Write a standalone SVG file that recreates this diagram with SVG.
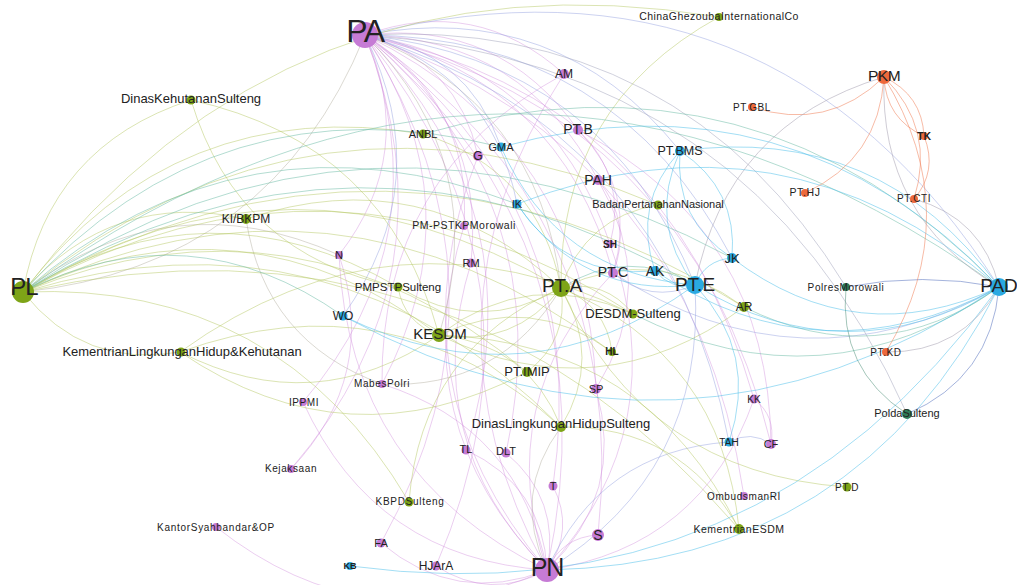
<svg xmlns="http://www.w3.org/2000/svg" width="1017" height="585" viewBox="0 0 1017 585">
<style>
.e path{fill:none;stroke-width:1}
.pp{stroke:#d08bdb;stroke-opacity:.42}
.pg{stroke:#a9a593;stroke-opacity:.42}
.pb{stroke:#9aa6e2;stroke-opacity:.5}
.pd{stroke:#9d9fb8;stroke-opacity:.48}
.gg{stroke:#b3c760;stroke-opacity:.48}
.gb{stroke:#6dbba6;stroke-opacity:.52}
.bb{stroke:#4fc0ea;stroke-opacity:.52}
.db{stroke:#5a74c0;stroke-opacity:.55}
.dd{stroke:#4f8f78;stroke-opacity:.52}
.oo{stroke:#ef7c55;stroke-opacity:.52}
.ob{stroke:#a7a3b2;stroke-opacity:.55}
.np{fill:#c67bd5}
.ng{fill:#7ea417}
.nb{fill:#2aa9e1}
.no{fill:#ee693c}
.nd{fill:#2e7c58}
text{font-family:"Liberation Sans",Arial,Helvetica,sans-serif;fill:#222;text-anchor:middle}
.sp{letter-spacing:.6px}
.b{font-weight:bold}
</style>

<!-- connectors: curved edges, coloured by the pair of node colours -->
<g id="edges" class="e">
<g class="pp">
<path d="M365 35 Q476 -5 564 74"/>
<path d="M365 35 Q458 62 478 156"/>
<path d="M365 35 Q500 19 578 130"/>
<path d="M365 35 Q525 38 598 180"/>
<path d="M365 35 Q550 66 610 244"/>
<path d="M365 35 Q560 80 613 273"/>
<path d="M365 35 Q486 117 471 263"/>
<path d="M365 35 Q472 101 464 226"/>
<path d="M365 35 Q418 153 339 255"/>
<path d="M365 35 Q478 204 382 384"/>
<path d="M365 35 Q587 143 596 389"/>
<path d="M365 35 Q540 212 466 450"/>
<path d="M365 35 Q561 202 506 453"/>
<path d="M365 35 Q594 204 553 486"/>
<path d="M365 35 Q632 215 598 535"/>
<path d="M365 35 Q617 248 547 570"/>
<path d="M365 35 Q669 100 754 399"/>
<path d="M365 35 Q691 118 771 444"/>
<path d="M365 35 Q693 152 744 496"/>
<path d="M365 35 Q525 284 381 543"/>
<path d="M365 35 Q560 279 436 566"/>
<path d="M365 35 Q444 237 303 402"/>
<path d="M365 35 Q458 274 291 469"/>
<path d="M466 450 Q543 486 547 570"/>
<path d="M506 453 Q561 499 547 570"/>
<path d="M553 486 Q575 530 547 570"/>
<path d="M547 570 Q562 537 598 535"/>
<path d="M547 570 Q456 606 381 543"/>
<path d="M547 570 Q490 601 436 566"/>
<path d="M547 570 Q369 648 216 527"/>
<path d="M596 389 Q626 494 547 570"/>
<path d="M547 570 Q491 402 613 273"/>
<path d="M610 244 Q676 426 547 570"/>
<path d="M547 570 Q375 559 303 402"/>
<path d="M382 384 Q520 428 547 570"/>
<path d="M547 570 Q417 439 471 263"/>
<path d="M547 570 Q349 475 339 255"/>
<path d="M547 570 Q402 423 464 226"/>
<path d="M547 570 Q388 384 478 156"/>
<path d="M547 570 Q407 317 564 74"/>
<path d="M382 384 Q380 174 564 74"/>
<path d="M754 399 Q702 547 547 570"/>
<path d="M754 399 Q776 416 771 444"/>
<path d="M339 255 Q379 376 291 469"/>
<path d="M598 180 Q633 223 613 273"/>
<path d="M578 130 Q638 191 613 273"/>
<path d="M578 130 Q628 177 610 244"/>
<path d="M578 130 Q769 229 771 444"/>
<path d="M598 180 Q660 285 596 389"/>
</g>
<g class="pg">
<path d="M365 35 Q492 163 439 335"/>
<path d="M365 35 Q271 266 23 292"/>
<path d="M365 35 Q539 103 561 288"/>
<path d="M547 570 Q511 494 561 427"/>
<path d="M561 288 Q500 390 382 384"/>
<path d="M23 292 Q170 179 339 255"/>
<path d="M382 384 Q265 342 246 219"/>
</g>
<g class="pb">
<path d="M365 35 Q605 61 695 285"/>
<path d="M365 35 Q773 -67 999 287"/>
<path d="M365 35 Q615 36 732 258"/>
<path d="M365 35 Q557 -2 680 151"/>
<path d="M365 35 Q438 182 343 316"/>
<path d="M365 35 Q467 50 501 147"/>
<path d="M365 35 Q492 74 517 204"/>
<path d="M365 35 Q669 129 729 442"/>
<path d="M695 285 Q706 472 547 570"/>
<path d="M547 570 Q600 451 729 442"/>
<path d="M729 442 Q751 430 771 444"/>
<path d="M999 287 Q802 396 613 273"/>
<path d="M695 285 Q650 304 613 273"/>
</g>
<g class="pd">
<path d="M365 35 Q681 17 846 287"/>
<path d="M365 35 Q750 62 907 414"/>
</g>
<g class="gg">
<path d="M23 292 Q49 146 191 100"/>
<path d="M23 292 Q113 189 246 219"/>
<path d="M180 352 Q84 369 23 292"/>
<path d="M23 292 Q291 129 561 288"/>
<path d="M23 292 Q244 189 439 335"/>
<path d="M23 292 Q209 177 398 287"/>
<path d="M23 292 Q176 93 423 134"/>
<path d="M23 292 Q335 120 633 314"/>
<path d="M23 292 Q299 181 527 372"/>
<path d="M23 292 Q336 145 612 352"/>
<path d="M23 292 Q333 198 561 427"/>
<path d="M23 292 Q314 58 658 205"/>
<path d="M23 292 Q388 83 744 307"/>
<path d="M23 292 Q452 196 739 529"/>
<path d="M23 292 Q279 281 409 502"/>
<path d="M23 292 Q288 -54 719 17"/>
<path d="M191 100 Q386 143 439 335"/>
<path d="M398 287 Q238 256 191 100"/>
<path d="M246 219 Q424 159 561 288"/>
<path d="M561 288 Q514 348 439 335"/>
<path d="M561 288 Q605 279 633 314"/>
<path d="M561 288 Q569 340 527 372"/>
<path d="M561 288 Q603 358 561 427"/>
<path d="M561 288 Q559 105 719 17"/>
<path d="M561 288 Q585 217 658 205"/>
<path d="M561 288 Q606 305 612 352"/>
<path d="M561 288 Q658 243 744 307"/>
<path d="M561 288 Q722 355 739 529"/>
<path d="M847 487 Q644 473 561 288"/>
<path d="M409 502 Q421 349 561 288"/>
<path d="M561 288 Q479 336 398 287"/>
<path d="M423 134 Q538 170 561 288"/>
<path d="M439 335 Q404 323 398 287"/>
<path d="M439 335 Q530 266 633 314"/>
<path d="M439 335 Q528 344 561 427"/>
<path d="M439 335 Q531 292 612 352"/>
<path d="M439 335 Q647 342 739 529"/>
<path d="M744 307 Q600 413 439 335"/>
<path d="M439 335 Q315 421 180 352"/>
<path d="M180 352 Q395 197 633 314"/>
<path d="M180 352 Q393 275 561 427"/>
<path d="M527 372 Q348 466 180 352"/>
<path d="M561 427 Q681 425 739 529"/>
</g>
<g class="gb">
<path d="M23 292 Q357 87 695 285"/>
<path d="M23 292 Q218 76 501 147"/>
<path d="M23 292 Q244 100 517 204"/>
<path d="M23 292 Q190 208 343 316"/>
<path d="M23 292 Q367 62 732 258"/>
<path d="M23 292 Q509 -62 999 287"/>
<path d="M561 288 Q627 246 695 285"/>
<path d="M999 287 Q824 410 633 314"/>
<path d="M999 287 Q878 374 744 307"/>
<path d="M423 134 Q757 38 999 287"/>
</g>
<g class="bb">
<path d="M695 285 Q647 223 680 151"/>
<path d="M680 151 Q738 189 732 258"/>
<path d="M732 258 Q674 220 680 151"/>
<path d="M655 271 Q632 204 680 151"/>
<path d="M695 285 Q705 260 732 258"/>
<path d="M695 285 Q671 290 655 271"/>
<path d="M695 285 Q582 298 517 204"/>
<path d="M655 271 Q566 279 517 204"/>
<path d="M695 285 Q557 274 501 147"/>
<path d="M695 285 Q528 406 343 316"/>
<path d="M695 285 Q759 353 729 442"/>
<path d="M999 287 Q846 377 695 285"/>
<path d="M999 287 Q857 353 732 258"/>
<path d="M999 287 Q822 382 655 271"/>
<path d="M999 287 Q680 498 343 316"/>
<path d="M999 287 Q858 564 547 570"/>
<path d="M999 287 Q758 621 350 566"/>
<path d="M680 151 Q880 123 999 287"/>
<path d="M501 147 Q792 68 999 287"/>
<path d="M517 204 Q783 101 999 287"/>
</g>
<g class="db">
<path d="M846 287 Q922 272 999 287"/>
<path d="M999 287 Q991 378 907 414"/>
</g>
<g class="dd">
<path d="M907 414 Q838 369 846 287"/>
</g>
<g class="oo">
<path d="M884 77 Q827 132 752 107"/>
<path d="M884 77 Q922 95 924 136"/>
<path d="M924 136 Q886 119 884 77"/>
<path d="M884 77 Q936 129 914 199"/>
<path d="M884 77 Q879 159 805 193"/>
<path d="M884 77 Q968 214 886 352"/>
<path d="M924 136 Q938 171 914 199"/>
</g>
<g class="ob">
<path d="M999 287 Q879 217 884 77"/>
<path d="M914 199 Q983 218 999 287"/>
<path d="M695 285 Q727 124 884 77"/>
<path d="M999 287 Q962 353 886 352"/>
</g>
</g>

<!-- nodes with their labels -->
<g id="nodes">
<g id="n-PL"><circle class="ng" cx="23" cy="292" r="11"/><text x="24" y="295" font-size="24" letter-spacing="-1">PL</text></g>
<g id="n-PA"><circle class="np" cx="365" cy="35" r="13"/><text x="365" y="42" font-size="32" letter-spacing="-1.5">PA</text></g>
<g id="n-PN"><circle class="np" cx="547" cy="570" r="12"/><text x="547" y="576" font-size="25" letter-spacing="-1">PN</text></g>
<g id="n-PTA"><circle class="ng" cx="561" cy="288" r="9"/><text x="562" y="292" font-size="19">PT.A</text></g>
<g id="n-PTE"><circle class="nb" cx="695" cy="285" r="9"/><text x="695" y="291" font-size="19">PT.E</text></g>
<g id="n-PAD"><circle class="nb" cx="999" cy="287" r="9"/><text x="999" y="292" font-size="19">PAD</text></g>
<g id="n-PKM"><circle class="no" cx="884" cy="77" r="7"/><text x="884" y="81" font-size="15.5" letter-spacing="-0.5">PKM</text></g>
<g id="n-KESDM"><circle class="ng" cx="439" cy="335" r="7"/><text x="440" y="339" font-size="15">KESDM</text></g>
<g id="n-DinasKehutananSulteng"><circle class="ng" cx="191" cy="100" r="4.5"/><text x="191" y="103" font-size="13">DinasKehutananSulteng</text></g>
<g id="n-ChinaGhezoubaInternationalCo"><circle class="ng" cx="719" cy="17" r="4"/><text x="719" y="20" font-size="10.5" letter-spacing="0.45">ChinaGhezoubaInternationalCo</text></g>
<g id="n-AM"><circle class="np" cx="564" cy="74" r="5"/><text x="564" y="78" font-size="12">AM</text></g>
<g id="n-ANBL"><circle class="ng" cx="423" cy="134" r="4.5"/><text x="423" y="138" font-size="11">ANBL</text></g>
<g id="n-GMA"><circle class="nb" cx="501" cy="147" r="4.5"/><text x="501" y="151" font-size="11">GMA</text></g>
<g id="n-G"><circle class="np" cx="478" cy="156" r="5"/><text x="478" y="160" font-size="12">G</text></g>
<g id="n-PTB"><circle class="np" cx="578" cy="130" r="5"/><text x="578" y="134" font-size="14">PT.B</text></g>
<g id="n-PTBMS"><circle class="nb" cx="680" cy="151" r="5"/><text x="680" y="155" font-size="12.5">PT.BMS</text></g>
<g id="n-PAH"><circle class="np" cx="598" cy="180" r="5"/><text x="598" y="185" font-size="14">PAH</text></g>
<g id="n-IK"><circle class="nb" cx="517" cy="204" r="4.5"/><text x="517" y="208" font-size="11">IK</text></g>
<g id="n-BadanPertanahanNasional"><circle class="ng" cx="658" cy="205" r="4.5"/><text x="658" y="208" font-size="11">BadanPertanahanNasional</text></g>
<g id="n-PTGBL"><circle class="no" cx="752" cy="107" r="4"/><text class="sp" x="752" y="111" font-size="10">PT.GBL</text></g>
<g id="n-TK"><circle class="no" cx="924" cy="136" r="4"/><text class="b" x="924" y="140" font-size="10.5">TK</text></g>
<g id="n-PTHJ"><circle class="no" cx="805" cy="193" r="4"/><text class="sp" x="805" y="196" font-size="10.5">PT.HJ</text></g>
<g id="n-PTCTI"><circle class="no" cx="914" cy="199" r="4"/><text class="sp" x="914" y="202" font-size="10">PT.CTI</text></g>
<g id="n-KIBKPM"><circle class="ng" cx="246" cy="219" r="5"/><text x="246" y="223" font-size="12">KI/BKPM</text></g>
<g id="n-PMPSTKPMorowali"><circle class="np" cx="464" cy="226" r="4"/><text x="464" y="229" font-size="10.5" letter-spacing="0.5">PM-PSTKPMorowali</text></g>
<g id="n-SH"><circle class="np" cx="610" cy="244" r="4"/><text class="b" x="610" y="248" font-size="10">SH</text></g>
<g id="n-JK"><circle class="nb" cx="732" cy="258" r="5"/><text x="732" y="263" font-size="13">JK</text></g>
<g id="n-N"><circle class="np" cx="339" cy="255" r="4"/><text x="339" y="259" font-size="11">N</text></g>
<g id="n-RM"><circle class="np" cx="471" cy="263" r="4.5"/><text x="471" y="267" font-size="11">RM</text></g>
<g id="n-PTC"><circle class="np" cx="613" cy="273" r="5"/><text x="613" y="277" font-size="14">PT.C</text></g>
<g id="n-AK"><circle class="nb" cx="655" cy="271" r="5"/><text x="655" y="276" font-size="14">AK</text></g>
<g id="n-PMPSTPSulteng"><circle class="ng" cx="398" cy="287" r="4.5"/><text x="398" y="291" font-size="11.5">PMPSTPSulteng</text></g>
<g id="n-PolresMorowali"><circle class="nd" cx="846" cy="287" r="4"/><text class="sp" x="846" y="291" font-size="10">PolresMorowali</text></g>
<g id="n-AR"><circle class="ng" cx="744" cy="307" r="5"/><text x="744" y="311" font-size="12">AR</text></g>
<g id="n-WO"><circle class="nb" cx="343" cy="316" r="4.5"/><text x="343" y="320" font-size="12">WO</text></g>
<g id="n-DESDMSulteng"><circle class="ng" cx="633" cy="314" r="4.5"/><text x="633" y="318" font-size="13">DESDM-Sulteng</text></g>
<g id="n-KementrianLingkunganHidupKehutanan"><circle class="ng" cx="181" cy="352" r="4.5"/><text x="182" y="356" font-size="13">KementrianLingkunganHidup&amp;Kehutanan</text></g>
<g id="n-PTKD"><circle class="no" cx="886" cy="352" r="4"/><text class="sp" x="886" y="356" font-size="10">PT.KD</text></g>
<g id="n-HL"><circle class="ng" cx="612" cy="352" r="4"/><text class="b" x="612" y="355" font-size="10">HL</text></g>
<g id="n-PTIMIP"><circle class="ng" cx="527" cy="372" r="5"/><text x="527" y="376" font-size="13">PT.IMIP</text></g>
<g id="n-MabesPolri"><circle class="np" cx="382" cy="384" r="4"/><text class="sp" x="382" y="387" font-size="10">MabesPolri</text></g>
<g id="n-SP"><circle class="np" cx="596" cy="389" r="5"/><text x="596" y="393" font-size="11">SP</text></g>
<g id="n-IPPMI"><circle class="np" cx="303" cy="402" r="4"/><text class="sp" x="304" y="406" font-size="10">IPPMI</text></g>
<g id="n-KK"><circle class="np" cx="754" cy="399" r="4.5"/><text x="754" y="403" font-size="10">KK</text></g>
<g id="n-PoldaSulteng"><circle class="nd" cx="907" cy="414" r="5"/><text x="907" y="417" font-size="11">PoldaSulteng</text></g>
<g id="n-DinasLingkunganHidupSulteng"><circle class="ng" cx="561" cy="427" r="5"/><text x="561" y="428" font-size="13">DinasLingkunganHidupSulteng</text></g>
<g id="n-TAH"><circle class="nb" cx="729" cy="442" r="4.5"/><text x="729" y="446" font-size="10">TAH</text></g>
<g id="n-CF"><circle class="np" cx="771" cy="444" r="5"/><text x="771" y="448" font-size="11">CF</text></g>
<g id="n-TL"><circle class="np" cx="466" cy="450" r="4.5"/><text x="466" y="453" font-size="11">TL</text></g>
<g id="n-DLT"><circle class="np" cx="506" cy="453" r="4.5"/><text x="506" y="455" font-size="11">DLT</text></g>
<g id="n-Kejaksaan"><circle class="np" cx="291" cy="469" r="4"/><text class="sp" x="291" y="472" font-size="10">Kejaksaan</text></g>
<g id="n-T"><circle class="np" cx="553" cy="486" r="4.5"/><text x="553" y="490" font-size="11">T</text></g>
<g id="n-PTD"><circle class="ng" cx="847" cy="487" r="4.5"/><text class="sp" x="847" y="491" font-size="10">PT.D</text></g>
<g id="n-KBPDSulteng"><circle class="ng" cx="409" cy="502" r="4.5"/><text x="410" y="505" font-size="10" letter-spacing="0.7">KBPDSulteng</text></g>
<g id="n-OmbudsmanRI"><circle class="np" cx="744" cy="496" r="4"/><text class="sp" x="744" y="500" font-size="10">OmbudsmanRI</text></g>
<g id="n-KantorSyahbandarOP"><circle class="np" cx="216" cy="527" r="4"/><text x="216" y="531" font-size="10" letter-spacing="0.7">KantorSyahbandar&amp;OP</text></g>
<g id="n-KementrianESDM"><circle class="ng" cx="739" cy="529" r="5"/><text x="739" y="533" font-size="10.5" letter-spacing="0.5">KementrianESDM</text></g>
<g id="n-S"><circle class="np" cx="598" cy="535" r="6"/><text x="598" y="540" font-size="14">S</text></g>
<g id="n-FA"><circle class="np" cx="381" cy="543" r="4.5"/><text x="381" y="547" font-size="11">FA</text></g>
<g id="n-KB"><circle class="nb" cx="350" cy="566" r="4"/><text class="b" x="350" y="569" font-size="9">KB</text></g>
<g id="n-HJArA"><circle class="np" cx="436" cy="566" r="4.5"/><text x="436" y="570" font-size="12">HJArA</text></g>
</g>
</svg>
